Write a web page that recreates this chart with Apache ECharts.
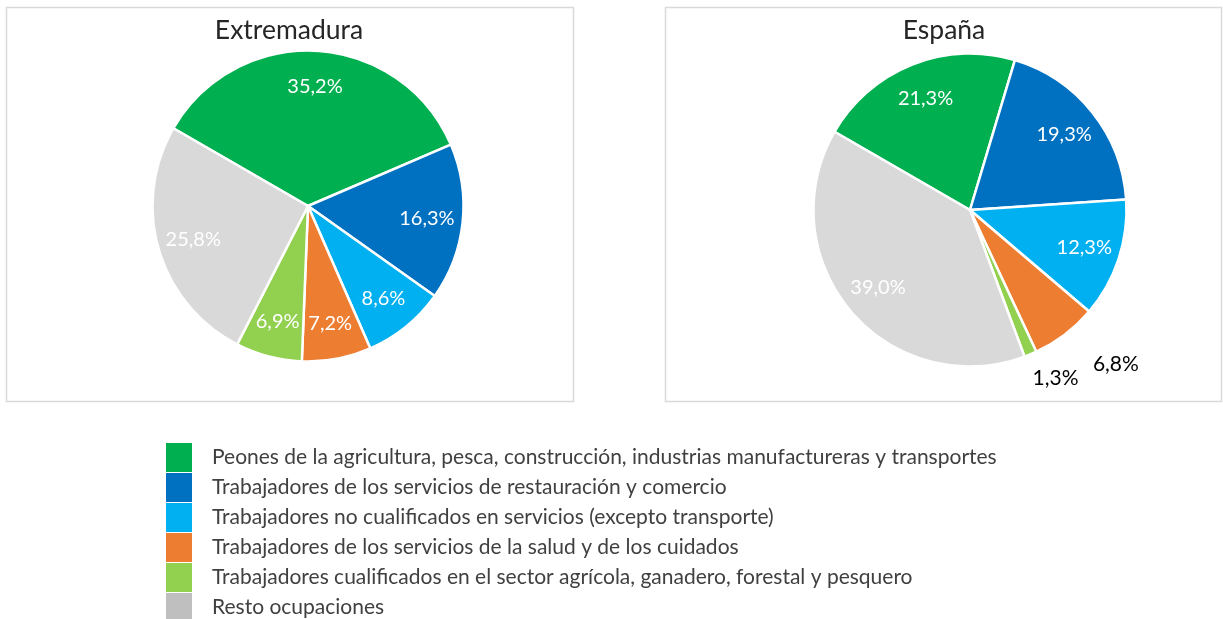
<!DOCTYPE html>
<html>
<head>
<meta charset="utf-8">
<script src="https://cdn.jsdelivr.net/npm/echarts@6/dist/echarts.min.js"></script>
<style>html,body{margin:0;padding:0;background:#fff}#c{width:1223px;height:619px}</style>
</head>
<body>
<div id="c"></div>
<script>
const categories = [
  'Peones de la agricultura, pesca, construcción, industrias manufactureras y transportes',
  'Trabajadores de los servicios de restauración y comercio',
  'Trabajadores no cualificados en servicios (excepto transporte)',
  'Trabajadores de los servicios de la salud y de los cuidados',
  'Trabajadores cualificados en el sector agrícola, ganadero, forestal y pesquero',
  'Resto ocupaciones'
];
const extremaduraValues = [35.2, 16.3, 8.6, 7.2, 6.9, 25.8];
const espanaValues = [21.3, 19.3, 12.3, 6.8, 1.3, 39.0];
const titles = ['Extremadura', 'España'];

const colors = ['#00B050', '#0070C0', '#00B0F0', '#ED7D31', '#92D050', '#D9D9D9'];
const legendColors = ['#00B050', '#0070C0', '#00B0F0', '#ED7D31', '#92D050', '#BFBFBF'];
const FONT = 'Lato';
const fmt = p => p.value.toFixed(1).replace('.', ',') + '%';

function pies(values, center, r, outside) {
  const base = {
    type: 'pie', center: center, radius: [0, r], startAngle: 150, clockwise: true,
    data: values.map((v, i) => ({ name: categories[i], value: v, itemStyle: { color: colors[i] } })),
    itemStyle: { borderColor: '#fff', borderWidth: 2.5 },
    label: { show: false }, labelLine: { show: false },
    emphasis: { disabled: true }, silent: true, animation: false
  };
  const overlay = {
    type: 'pie', center: center, radius: [r * 0.5, r], startAngle: 150, clockwise: true,
    avoidLabelOverlap: false,
    data: values.map((v, i) => {
      const d = { name: categories[i], value: v };
      if (outside[i]) {
        d.label = { position: 'outside', color: '#000', fontSize: 21 };
        d.labelLine = { show: false, length: outside[i][0], length2: outside[i][1] };
      }
      return d;
    }),
    itemStyle: { color: 'rgba(0,0,0,0)', borderWidth: 0 },
    label: { show: true, position: 'inside', formatter: fmt, color: '#fff', fontSize: 20, fontFamily: FONT },
    labelLine: { show: false },
    emphasis: { disabled: true }, silent: true, animation: false
  };
  return [base, overlay];
}

const chart = echarts.init(document.getElementById('c'), null, { renderer: 'canvas' });
chart.setOption({
  backgroundColor: '#fff',
  animation: false,
  title: [
    { text: titles[0], left: 289, top: 17, textAlign: 'center', padding: 0,
      textStyle: { fontFamily: FONT, fontSize: 26.5, fontWeight: 'normal', color: '#262626' } },
    { text: titles[1], left: 944, top: 17, textAlign: 'center', padding: 0,
      textStyle: { fontFamily: FONT, fontSize: 26.5, fontWeight: 'normal', color: '#262626' } }
  ],
  graphic: [
    { type: 'rect', shape: { x: 6.5, y: 7.5, width: 567, height: 394 }, style: { fill: 'none', stroke: '#D9D9D9', lineWidth: 1.5 }, silent: true },
    { type: 'rect', shape: { x: 665.5, y: 7.5, width: 556, height: 394 }, style: { fill: 'none', stroke: '#D9D9D9', lineWidth: 1.5 }, silent: true }
  ],
  legend: {
    orient: 'vertical', left: 166, top: 443, height: 220, padding: 0,
    icon: 'rect', itemWidth: 26, itemHeight: 29, itemGap: 1,
    itemStyle: { borderWidth: 0 },
    selectedMode: false,
    data: categories.map((c, i) => ({ name: c, itemStyle: { color: legendColors[i], borderWidth: 0 } })),
    textStyle: { fontFamily: FONT, fontSize: 21, color: '#404040', padding: [0, 0, 0, 15] }
  },
  series: [
    ...pies(extremaduraValues, [308, 206], 155.5, {}),
    ...pies(espanaValues, [970, 210], 156.5, { 3: [38, 0], 4: [26, -13] })
  ]
});
</script>
</body>
</html>
